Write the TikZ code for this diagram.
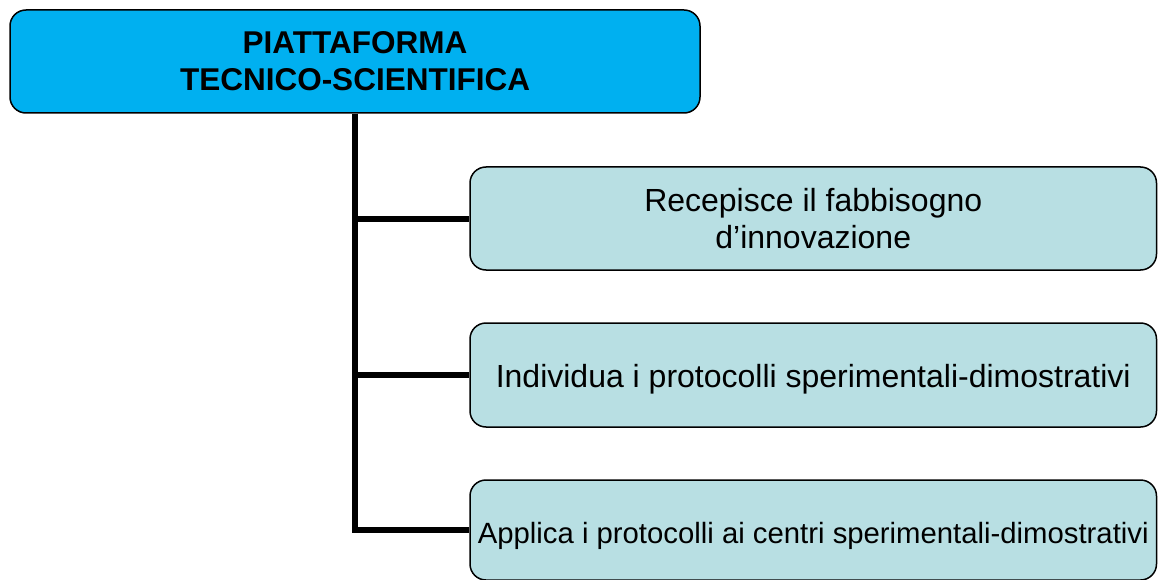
\documentclass[tikz,border=0pt]{standalone}
\usepackage{fontspec}
\setmainfont{Liberation Sans}
\definecolor{topfill}{HTML}{00B0F0}
\definecolor{subfill}{HTML}{B8DFE3}
\begin{document}
\begin{tikzpicture}[x=1pt,y=1pt,
  topbox/.style={draw=black, line width=1.5pt, fill=topfill, rounded corners=16pt,
    minimum width=690pt, minimum height=103pt, inner sep=0pt, align=center,
    font=\fontsize{31.5}{37}\selectfont\bfseries},
  subbox/.style={draw=black, line width=1.5pt, fill=subfill, rounded corners=16pt,
    minimum width=686.5pt, inner sep=0pt,
    font=\fontsize{32}{37}\selectfont},
  conn/.style={draw=black, line width=6pt}]
\useasboundingbox (0,0) rectangle (1158,-580);
\node[topbox] (top) at (355,-61.5) {PIATTAFORMA\\TECNICO-SCIENTIFICA};
\node[subbox, align=center, minimum height=103pt] (b1) at (813.25,-218.5) {Recepisce il fabbisogno\\d’innovazione};
\node[subbox, minimum height=104pt, text height=28pt, text depth=4pt] (b2) at (813.25,-375) {Individua i protocolli sperimentali-dimostrativi};
\node[subbox, minimum height=100pt, text height=29pt, text depth=3pt, font=\fontsize{29.3}{35}\selectfont] (b3) at (813.25,-530) {Applica i protocolli ai centri sperimentali-dimostrativi};
\draw[conn] (top.south) |- (b3.west);
\draw[conn] (top.south) |- (b1.west);
\draw[conn] (top.south) |- (b2.west);
\end{tikzpicture}
\end{document}
